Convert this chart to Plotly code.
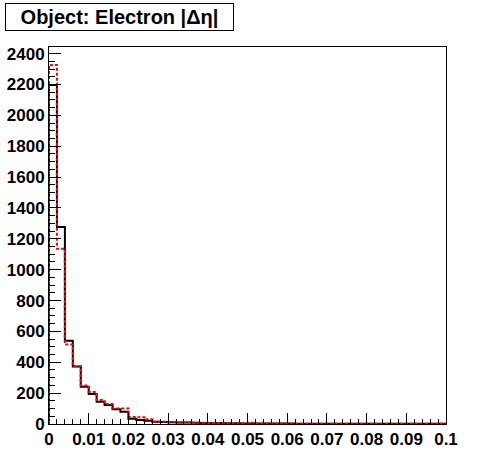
import plotly.graph_objects as go

bin_width = 0.002
n_bins = 50
black_vals = [2197, 1276, 539, 372, 241, 194, 144, 123, 95, 80,
              34, 26, 21, 15, 13, 11, 10, 9, 8, 7,
              6, 6, 5, 5, 4, 4, 4, 3, 3, 3,
              3, 2, 2, 2, 2, 2, 2, 1, 1, 1,
              1, 1, 1, 1, 1, 1, 1, 1, 1, 1]
red_vals = [2327, 1136, 515, 375, 250, 207, 155, 129, 101, 101,
            45, 43, 30, 15, 14, 12, 10, 9, 8, 8,
            7, 6, 5, 5, 5, 8, 4, 3, 3, 3,
            3, 2, 2, 2, 2, 2, 1, 1, 1, 1,
            1, 1, 1, 1, 1, 1, 1, 1, 1, 1]
x_ticks = [0, 0.01, 0.02, 0.03, 0.04, 0.05, 0.06, 0.07, 0.08, 0.09, 0.1]
x_tick_labels = ["0", "0.01", "0.02", "0.03", "0.04", "0.05", "0.06", "0.07", "0.08", "0.09", "0.1"]
y_ticks = list(range(0, 2401, 200))
title_text = "<b>Object: Electron |Δη|</b>"

edges = [i * bin_width for i in range(n_bins + 1)]

def step(vals):
    xs = [edges[0]] + edges
    ys = [0] + list(vals) + [vals[-1]]
    return xs, ys

fig = go.Figure()
bx, by = step(black_vals)
fig.add_trace(go.Scatter(x=bx, y=by, mode="lines", line=dict(color="black", width=2, shape="hv"),
                         showlegend=False, hoverinfo="skip"))
rx, ry = step(red_vals)
fig.add_trace(go.Scatter(x=rx, y=ry, mode="lines", line=dict(color="red", width=2, shape="hv", dash="3px,2px"),
                         showlegend=False, hoverinfo="skip"))

W, H = 496, 472
L, R, T, B = 49, 50, 47, 48
pw, ph = W - L - R, H - T - B

fig.update_layout(
    width=W, height=H,
    margin=dict(l=L, r=R, t=T, b=B, autoexpand=False),
    plot_bgcolor="white", paper_bgcolor="white",
    font=dict(family="Liberation Sans, Arial, sans-serif", color="black", size=17),
    xaxis=dict(range=[0, 0.1], tickvals=x_ticks,
               ticktext=["<b>%s</b>" % t for t in x_tick_labels],
               ticks="inside", ticklen=11, tickcolor="black", tickwidth=1,
               minor=dict(dtick=0.002, ticks="inside", ticklen=5, tickcolor="black", tickwidth=1),
               showgrid=False, zeroline=False, showline=True, linecolor="black", linewidth=1, mirror=True,
               tickfont=dict(size=17), automargin=False, ticklabelstandoff=0),
    yaxis=dict(range=[0, 2443], tickvals=y_ticks,
               ticktext=["<b>%d</b>" % v for v in y_ticks],
               ticks="inside", ticklen=12, tickcolor="black", tickwidth=1,
               minor=dict(dtick=50, ticks="inside", ticklen=6, tickcolor="black", tickwidth=1),
               showgrid=False, zeroline=False, showline=True, linecolor="black", linewidth=1, mirror=True,
               tickfont=dict(size=17), automargin=False, ticklabelstandoff=0),
    annotations=[dict(text=title_text, xref="paper", yref="paper",
                      x=(5 - L) / pw, y=(T + ph - 3) / ph, xanchor="left", yanchor="top",
                      showarrow=False, font=dict(size=20, color="black"),
                      bordercolor="black", borderwidth=1, bgcolor="white",
                      width=225, height=24, align="center")],
)

fig.write_html("out.html", config={"displayModeBar": False},
               post_script="document.body.style.margin='0';document.body.style.padding='0';")
